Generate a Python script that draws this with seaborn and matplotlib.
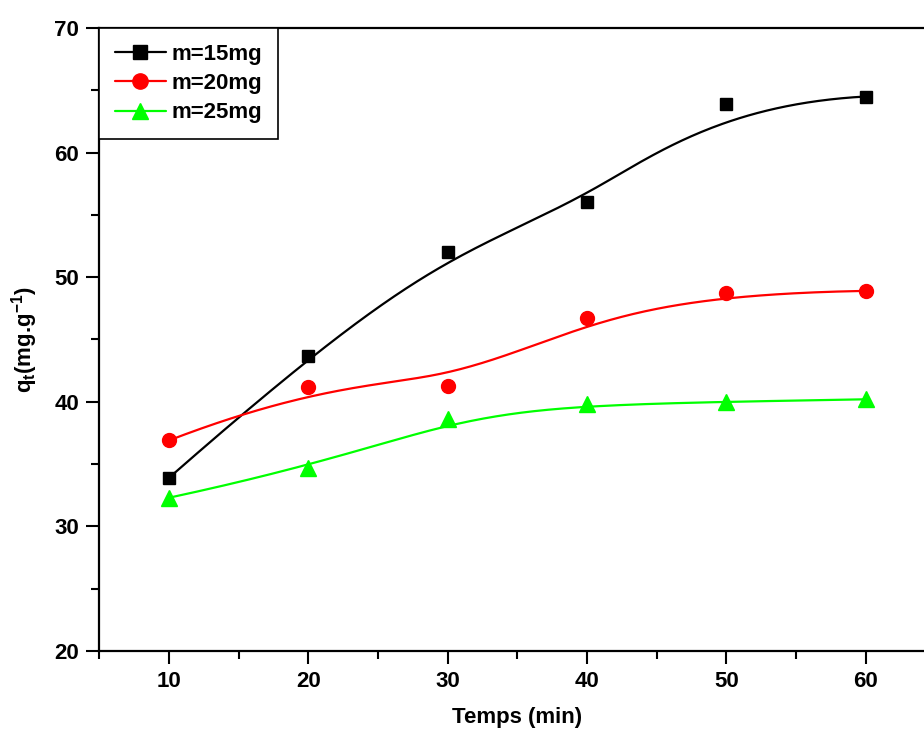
import numpy as np
import pandas as pd
import matplotlib
matplotlib.use('Agg')
import matplotlib.pyplot as plt
from matplotlib.lines import Line2D
from matplotlib.ticker import MultipleLocator
import seaborn as sns

# data
temps = [10, 20, 30, 40, 50, 60]
q_15mg = [33.9, 43.7, 52.0, 56.0, 63.9, 64.5]
q_20mg = [36.9, 41.2, 41.3, 46.7, 48.7, 48.9]
q_25mg = [32.3, 34.7, 38.6, 39.8, 40.0, 40.2]
labels = ['m=15mg', 'm=20mg', 'm=25mg']
colors = ['black', '#ff0000', '#00ff00']
markers = ['s', 'o', '^']
msizes = [9, 10, 11]


def bspline(xs, ys, k=3, n=300):
    # clamped cubic B-spline using the data points as control points
    P = np.column_stack([xs, ys]).astype(float)
    m = len(P)
    t = np.concatenate([np.zeros(k), np.arange(m - k + 1), np.full(k, m - k)]).astype(float)
    u = np.linspace(0, m - k, n)
    N = np.zeros((n, len(t) - 1))
    for i in range(len(t) - 1):
        N[:, i] = (u >= t[i]) & (u < t[i + 1])
    N[-1, :] = 0
    N[-1, m - 1] = 1
    for d in range(1, k + 1):
        Nn = np.zeros((n, len(t) - 1 - d))
        for i in range(len(t) - 1 - d):
            a = t[i + d] - t[i]
            b = t[i + d + 1] - t[i + 1]
            if a > 0:
                Nn[:, i] += (u - t[i]) / a * N[:, i]
            if b > 0:
                Nn[:, i] += (t[i + d + 1] - u) / b * N[:, i + 1]
        N = Nn
    S = N @ P
    return S[:, 0], S[:, 1]


pts = pd.DataFrame({
    'temps': temps * 3,
    'q': q_15mg + q_20mg + q_25mg,
    'serie': np.repeat(labels, len(temps)),
})

sns.set_style('ticks')
plt.rcParams['font.family'] = ['Liberation Sans', 'DejaVu Sans']
plt.rcParams['font.weight'] = 'bold'
plt.rcParams['text.color'] = 'black'
plt.rcParams['axes.labelcolor'] = 'black'
plt.rcParams['xtick.color'] = 'black'
plt.rcParams['ytick.color'] = 'black'
plt.rcParams['mathtext.fontset'] = 'custom'
plt.rcParams['mathtext.rm'] = 'Liberation Sans:bold'
plt.rcParams['mathtext.it'] = 'Liberation Sans:bold'
plt.rcParams['mathtext.bf'] = 'Liberation Sans:bold'
plt.rcParams['mathtext.default'] = 'bf'

fig = plt.figure(figsize=(9.24, 7.36), dpi=100)
ax = fig.add_axes([0.1075, 0.1155, 0.905, 0.8465])

handles = []
for lab, ys, c, mk, ms in zip(labels, [q_15mg, q_20mg, q_25mg], colors, markers, msizes):
    sx, sy = bspline(temps, ys)
    sns.lineplot(x=sx, y=sy, color=c, lw=1.6, ax=ax, sort=False, legend=False)
    sub = pts[pts['serie'] == lab]
    ax.plot(sub['temps'], sub['q'], ls='none', marker=mk, ms=ms, color=c, mec=c)
    handles.append(Line2D([], [], color=c, lw=1.6, marker=mk, ms=ms + 1, mec=c))

ax.set_xlim(5, 65)
ax.set_ylim(20, 70)
ax.xaxis.set_major_locator(MultipleLocator(10))
ax.xaxis.set_minor_locator(MultipleLocator(5))
ax.yaxis.set_major_locator(MultipleLocator(10))
ax.yaxis.set_minor_locator(MultipleLocator(5))
ax.tick_params(which='major', direction='out', length=9.5, width=1.5, labelsize=16, pad=5)
ax.tick_params(which='minor', direction='out', length=5.5, width=1.5)
for s in ax.spines.values():
    s.set_linewidth(1.6)
    s.set_color('black')

ax.set_xlabel('Temps (min)', fontsize=16, fontweight='bold', labelpad=11)
ax.set_ylabel(r'q$_\mathbf{t}$(mg.g$^\mathbf{-1}$)', fontsize=16, fontweight='bold', labelpad=10)

leg = ax.legend(handles, labels, loc='upper left', bbox_to_anchor=(0, 1), borderaxespad=0,
                fancybox=False, edgecolor='black', framealpha=1, fontsize=16,
                handlelength=2.3, handletextpad=0.25, borderpad=0.7, labelspacing=0.38)
leg.get_frame().set_linewidth(1.2)
for txt in leg.get_texts():
    txt.set_fontweight('bold')

fig.savefig('out.png', dpi=100)
